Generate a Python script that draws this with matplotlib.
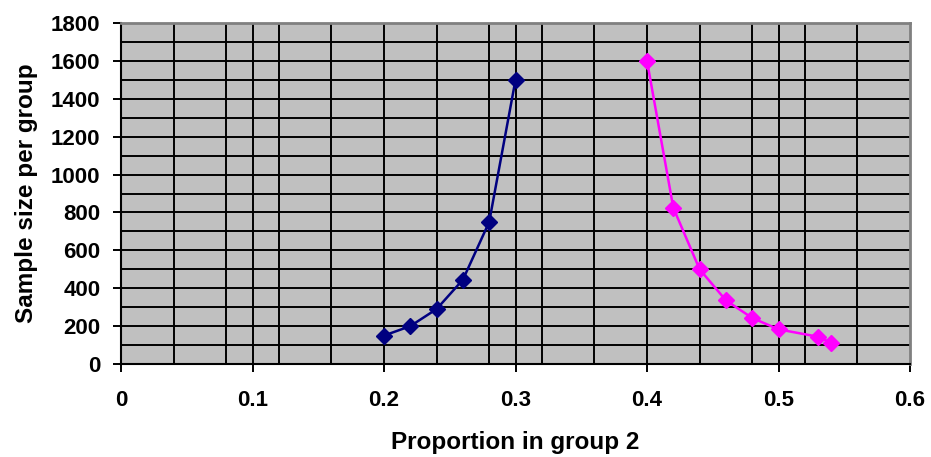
import matplotlib
matplotlib.use("Agg")
import matplotlib.pyplot as plt
import numpy as np

plt.rcParams['font.family'] = ['Liberation Sans', 'DejaVu Sans']

# Proportion in group 2 and required sample size per group
p_low = [0.20, 0.22, 0.24, 0.26, 0.28, 0.30]
n_low = [150, 200, 290, 445, 750, 1500]
p_high = [0.40, 0.42, 0.44, 0.46, 0.48, 0.50, 0.53, 0.54]
n_high = [1600, 825, 500, 336, 243, 183, 144, 112]

x_ticks = [0, 0.1, 0.2, 0.3, 0.4, 0.5, 0.6]
y_ticks = [0, 200, 400, 600, 800, 1000, 1200, 1400, 1600, 1800]

W, H = 931, 457
fig = plt.figure(figsize=(W / 100, H / 100), dpi=100)
ax = fig.add_axes([121 / W, (H - 364) / H, (910 - 121) / W, (364 - 23) / H])
ax.set_facecolor('#C0C0C0')
ax.set_xlim(0, 0.6)
ax.set_ylim(0, 1800)

# gridlines: every 0.04 and every 0.1 on x, every 100 on y
gx = sorted(set(np.round(np.arange(0.04, 0.6, 0.04), 2)) | set(np.round(np.arange(0.1, 0.6, 0.1), 2)))
for g in gx:
    ax.axvline(g, color='black', lw=1.4, zorder=1)
for g in range(100, 1800, 100):
    ax.axhline(g, color='black', lw=1.4, zorder=1)

ax.plot(p_low, n_low, color='#000080', lw=1.8, marker='D', ms=8, zorder=3)
ax.plot(p_high, n_high, color='#FF00FF', lw=1.8, marker='D', ms=8, zorder=3)

ax.set_xticks(x_ticks)
ax.set_xticklabels(['0', '0.1', '0.2', '0.3', '0.4', '0.5', '0.6'])
ax.set_yticks(y_ticks)
ax.tick_params(direction='out', length=5.8, width=1.4, colors='black', labelsize=16)
ax.tick_params(axis='x', pad=13)
ax.tick_params(axis='y', pad=9)
for lab in ax.get_xticklabels() + ax.get_yticklabels():
    lab.set_fontweight('bold')

for side in ('left', 'bottom'):
    ax.spines[side].set_color('black')
    ax.spines[side].set_linewidth(1.5)
for side in ('top', 'right'):
    ax.spines[side].set_color('#808080')
    ax.spines[side].set_linewidth(2)

ax.set_xlabel('Proportion in group 2', fontsize=17.5, fontweight='bold', labelpad=14)
ax.set_ylabel('Sample size per group', fontsize=17.5, fontweight='bold', labelpad=9)

fig.savefig('out.png', dpi=100)
